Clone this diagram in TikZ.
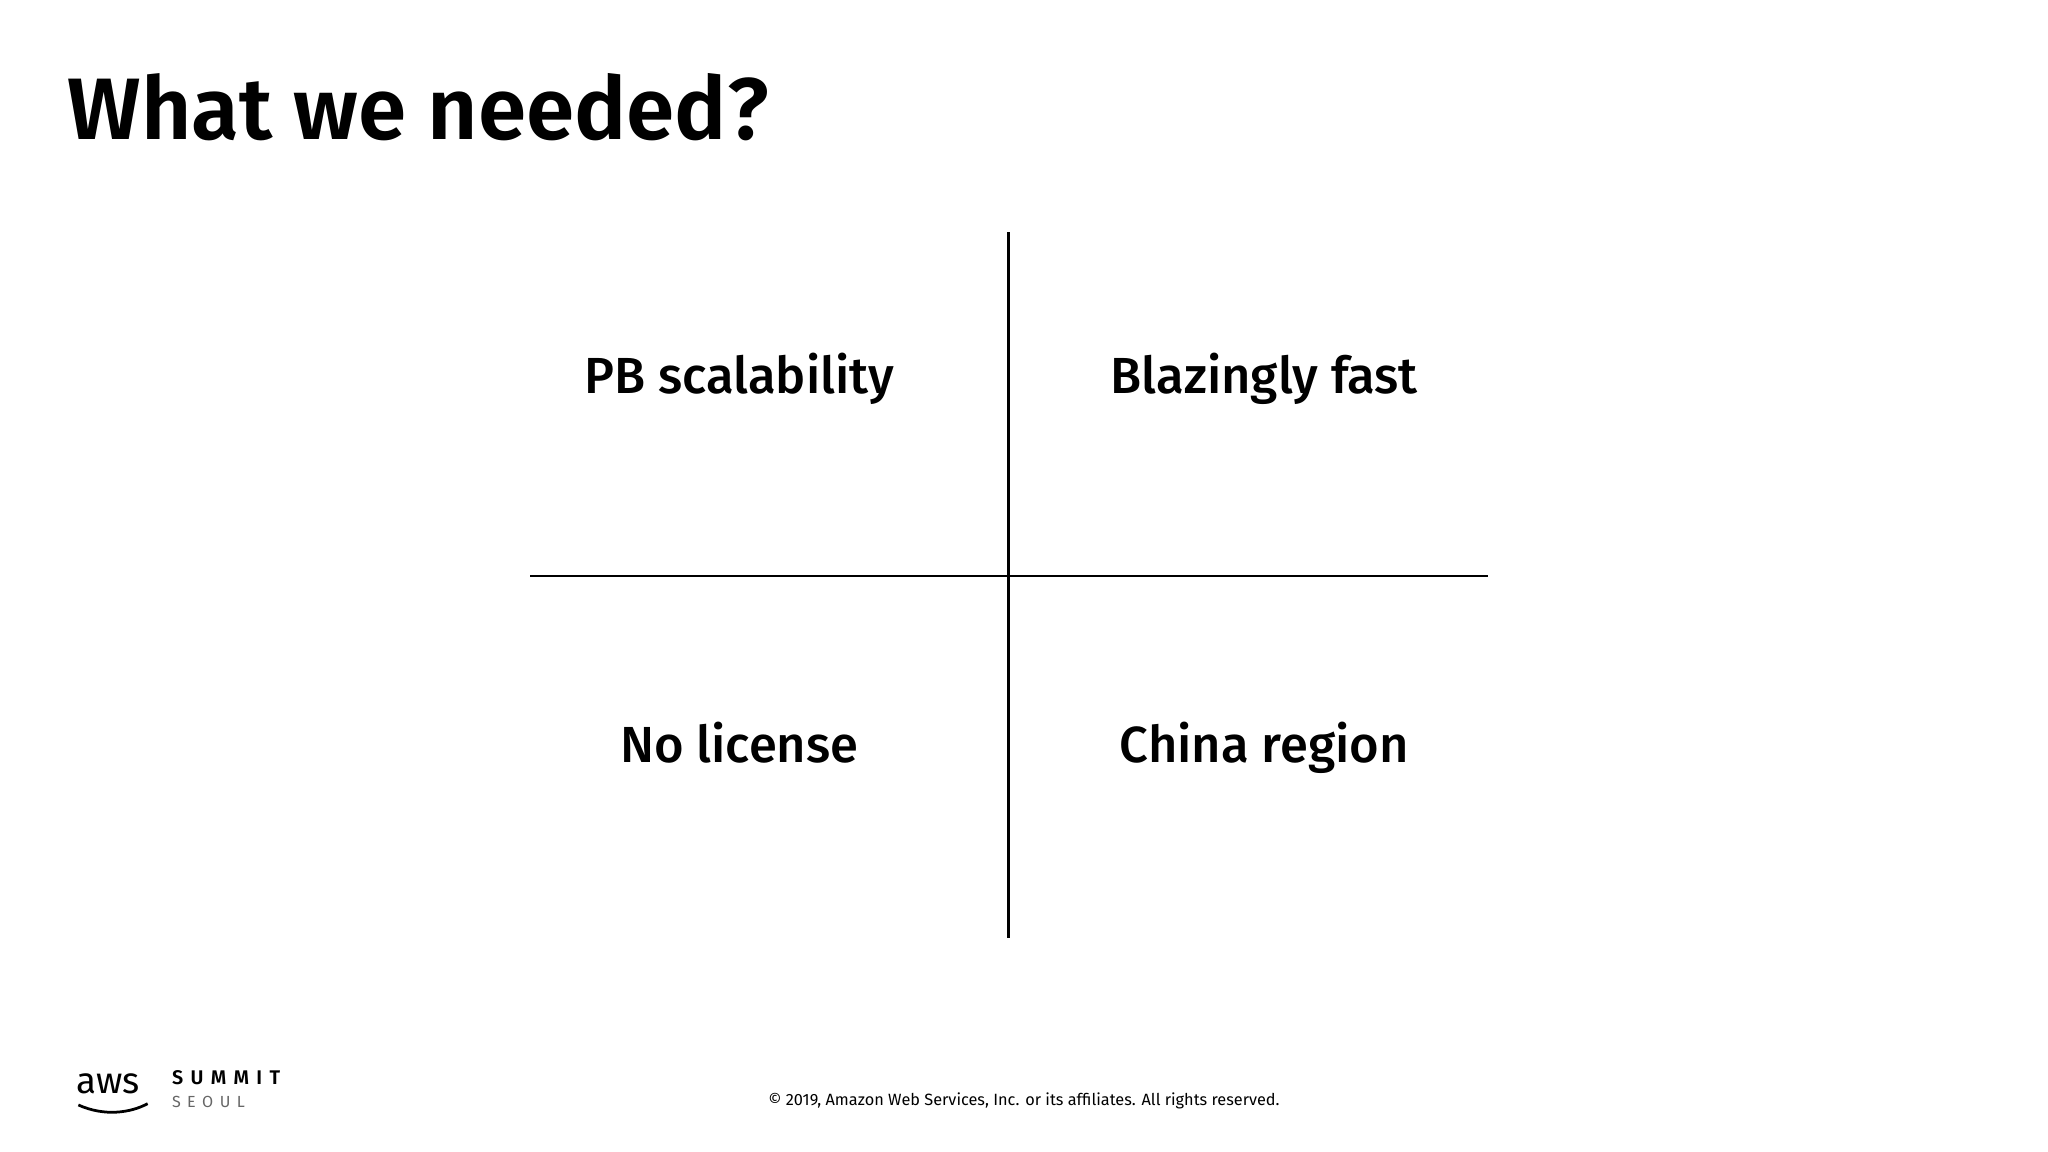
\documentclass[tikz,border=0pt]{standalone}
\usepackage{fontspec}
\setmainfont{Fira Sans}
\newfontfamily\medfont{Fira Sans Medium}
\newfontfamily\semifont{Fira Sans SemiBold}
\begin{document}
\begin{tikzpicture}[x=0.01cm,y=-0.01cm,
  quad/.style={font=\medfont\fontsize{11.05}{13}\selectfont, inner sep=0pt, anchor=base},
  divider/.style={line width=0.6pt, black}]
\useasboundingbox (0,0) rectangle (1568,882);
\node[anchor=base west, inner sep=0pt, font=\semifont\fontsize{19}{23}\selectfont] (title) at (51,107) {What we needed?};
\coordinate (vt) at (772,178);
\coordinate (vb) at (772,718);
\coordinate (hl) at (406,441);
\coordinate (hr) at (1139,441);
\draw[divider] (vt) -- (vb);
\draw[divider] (hl) -- (hr);
\node[quad] (q1) at (566,301) {PB scalability};
\node[quad] (q2) at (968,301) {Blazingly fast};
\node[quad] (q3) at (566,584) {No license};
\node[quad] (q4) at (968,584) {China region};
\node[inner sep=0pt, font=\fontsize{3.55}{4}\selectfont] (copy) at (784,843) {© 2019, Amazon Web Services, Inc. or its affiliates. All rights reserved.};
\node[anchor=west, inner sep=0pt, font=\fontsize{8}{9}\selectfont] (aws) at (58,830) {aws};
\draw[line width=0.6pt] (60,846) .. controls (80,855) and (100,852) .. (113,845);
\node[anchor=west, inner sep=0pt, font=\semifont\fontsize{4.3}{5}\selectfont] (summit) at (131,825) {S\hspace{1.6pt}U\hspace{1.6pt}M\hspace{1.6pt}M\hspace{1.6pt}I\hspace{1.6pt}T};
\node[anchor=west, inner sep=0pt, font=\fontsize{3.5}{4}\selectfont, text=black!60] (seoul) at (131,844) {S\hspace{1.4pt}E\hspace{1.4pt}O\hspace{1.4pt}U\hspace{1.4pt}L};
\end{tikzpicture}
\end{document}
